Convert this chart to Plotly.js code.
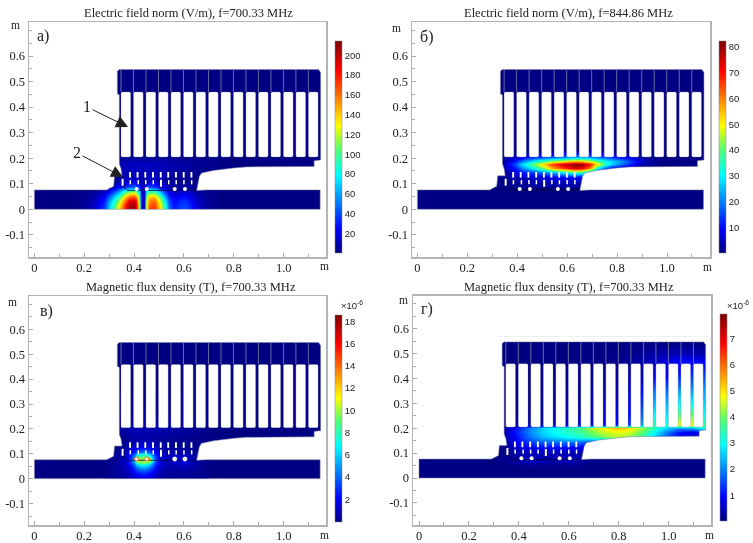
<!DOCTYPE html>
<html><head><meta charset="utf-8">
<script src="https://cdn.plot.ly/plotly-3.0.1.min.js"></script>
<style>html,body{margin:0;padding:0;background:#fff}#p{width:753px;height:543px;filter:blur(.4px)}</style></head>
<body><div id="p"></div>
<script>
// ---------- tick labels ----------
const xTickVals=[0,0.2,0.4,0.6,0.8,1.0];
const xTickText=['0','0.2','0.4','0.6','0.8','1.0'];
const yTickVals=[-0.1,0,0.1,0.2,0.3,0.4,0.5,0.6];
const yTickText=['-0.1','0','0.1','0.2','0.3','0.4','0.5','0.6'];
const titles=['Electric field norm (V/m), f=700.33 MHz','Electric field norm (V/m), f=844.86 MHz','Magnetic flux density (T), f=700.33 MHz','Magnetic flux density (T), f=700.33 MHz'];
const panelLabels=['а)','б)','в)','г)'];
const cbTicksA=[20,40,60,80,100,120,140,160,180,200];
const cbTicksB=[10,20,30,40,50,60,70,80];
const cbTicksC=[2,4,6,8,10,12,14,16,18];
const cbTicksD=[1,2,3,4,5,6,7];
const zRanges=[[0.2,214],[0,82.2],[0.02,18.6],[0.02,7.94]];

// ---------- geometry of the structure (m) ----------
const bodyX=[.34,.333,.333,.341,.341,.348,.352,.322,.318,.302,.29,0,0,1.146,1.146,.69,.651,.662,.671,.718,.80,.85,1.122,1.122,1.148,1.148,1.14,.34];
const bodyY=[.547,.54,.452,.447,.178,.158,.131,.131,.09,.082,.076,.076,0,0,.076,.076,.074,.129,.142,.152,.162,.166,.168,.19,.193,.535,.547,.547];
const slotLeft=[.3476,.3977,.4478,.4979,.548,.5981,.6482,.6983,.7484,.7985,.8486,.8987,.9488,.9989,1.049,1.0991];
const slotWidth=.0388, slotBottom=.205, slotTop=.459;
const holesTopX=[.384,.414,.445,.476,.507,.537,.568,.599,.630];
const holesTopY=[.135,.135,.135,.135,.135,.135,.135,.135,.135];
const holesMidX=[.385,.417,.447,.477,.539,.569,.600,.631];
const holesMidY=[.106,.106,.106,.106,.106,.106,.106,.106];
const holesLeftX=[.354,.508]; const holesLeftY=[.106,.102];
const holesBigX=[.410,.451,.563,.604]; const holesBigY=[.079,.079,.079,.079];
const cavityLineX=[.358,.362,.372,.648,null,.508,.508];
const cavityLineY=[.105,.085,.074,.074,null,.09,.074];

// ---------- field values ----------
const xA=[.16,.2,.24,.28,.3,.32,.34,.36,.38,.4,.41,.42,.43,.44,.45,.46,.48,.5,.52,.54,.56,.58,.6,.62,.64,.68,.72];
const yA=[0,.015,.03,.045,.06,.075,.09,.11,.14,.18,.21];
const zA=[
[2,5,14,38,72,102,138,175,208,205,190,120,14,14,130,170,175,140,95,45,30,38,42,36,22,8,3],
[2,5,14,36,68,98,132,172,205,205,188,118,14,14,128,165,172,138,92,43,28,36,40,34,20,8,3],
[2,5,12,32,62,90,122,160,195,198,180,110,14,14,122,158,165,130,85,40,26,32,36,30,18,7,3],
[2,4,10,26,50,74,102,140,170,175,160,100,14,14,112,145,150,115,70,32,22,26,30,25,14,6,2],
[2,3,7,18,34,54,77,110,135,140,125,85,14,14,95,115,118,85,50,24,16,18,22,18,10,4,2],
[2,2,4,9,18,32,50,70,85,90,80,60,14,14,70,80,78,55,32,16,10,12,14,12,6,3,2],
[2,2,2,3,6,14,25,35,42,45,40,30,12,12,36,40,36,26,16,8,5,6,7,6,3,2,2],
[2,2,2,2,3,5,8,12,15,16,15,12,8,8,12,14,13,10,6,4,3,3,3,3,2,2,2],
[2,2,2,2,2,4,8,10,11,12,12,12,11,11,11,11,11,10,9,8,7,7,6,5,4,2,2],
[2,2,2,2,2,3,9,12,13,13,13,13,13,13,13,13,12,12,11,10,9,8,7,6,5,4,3],
[2,2,2,2,2,2,2,3,3,3,3,3,3,3,3,3,3,3,3,3,3,3,3,2,2,2,2]];

const xB=[.33,.36,.39,.42,.45,.48,.51,.54,.57,.6,.63,.66,.69,.72,.75,.78,.81,.84,.87,.9,.95];
const yB=[.1,.125,.145,.16,.175,.19,.205,.22];
const zB=[
[1,1,1.5,2,2,2.5,3,3,3,3,3,2,1,1,1,1,1,1,1,1,1],
[1,2,3,4,5,6,7,8,9,9,9,7,3,1,1,1,1,1,1,1,1],
[1,3,7,11,14,17,20,24,28,32,36,36,22,8,3,1,1,1,1,1,1],
[1,5,11,20,27,34,44,56,62,68,74,72,58,32,16,9,5,3,2,1,1],
[1,7,16,28,37,46,56,66,72,78,82,80,70,52,36,26,20,14,8,3,1],
[1,5,11,20,27,33,38,44,48,52,56,54,48,40,32,27,23,18,12,6,1],
[1,3,5,8,12,14,16,18,20,22,24,24,22,19,17,14,11,8,5,2,1],
[1,1,2,3,4,5,6,6,7,7,8,8,7,6,5,4,3,2,1,1,1]];

const xC=[.3,.33,.36,.38,.4,.41,.42,.43,.44,.45,.46,.48,.5,.53,.56,.6,.64,.68];
const yC=[0,.02,.04,.055,.065,.075,.085,.095,.11,.13,.16,.2,.3];
const zC=[
[.2,.3,.5,.8,1.2,1.4,1.6,1.7,1.7,1.6,1.4,1,.6,.3,.3,.4,.3,.2],
[.2,.4,.7,1.1,1.8,2.2,2.5,2.6,2.6,2.5,2.2,1.5,.8,.4,.4,.5,.3,.2],
[.2,.5,.9,1.6,3,3.8,4.4,4.7,4.7,4.4,3.8,2.4,1.2,.6,.6,.8,.5,.2],
[.2,.5,1,2.2,4.2,5.8,6.6,7,7,6.6,5.8,3.2,1.5,.8,.9,1.2,.6,.2],
[.2,.5,1.1,2.6,5.2,8,9.4,9.8,9.8,9.4,8,3.8,1.7,.9,1.2,1.5,.7,.2],
[.2,.5,1.1,2.8,5.6,13,10.5,10,10,10.5,13,4,1.8,1,1.5,2,.8,.2],
[.2,.5,1.1,2.6,5.2,8.4,9.4,9.4,9.4,9.4,8.4,3.8,1.7,1,1.3,1.6,.7,.2],
[.2,.4,1,2.2,4.2,6.4,7.4,7.8,7.8,7.4,6.4,3.2,1.5,.9,1,1.1,.5,.2],
[.2,.3,.8,1.4,2.6,3.4,3.8,4,4,3.8,3.4,2,1.1,.7,.7,.7,.4,.2],
[.2,.2,.5,.8,1.3,1.6,1.8,1.9,1.9,1.8,1.6,1.1,.7,.5,.4,.4,.3,.2],
[.2,.2,.3,.5,.6,.7,.7,.7,.7,.7,.7,.6,.5,.4,.3,.3,.2,.2],
[.2,.3,.6,.8,.9,.9,.9,.9,.9,.9,.9,.9,.9,.8,.7,.6,.4,.2],
[.2,.2,.2,.2,.2,.2,.2,.2,.2,.2,.2,.2,.2,.2,.2,.2,.2,.2]];

const xD=[.342,.392,.442,.492,.542,.592,.642,.692,.742,.792,.842,.892,.942,.992,1.042,1.092,1.142];
const yD=[.05,.07,.10,.125,.145,.165,.185,.2,.215,.25,.3,.35,.4,.44,.47,.5,.545];
const zD=[
[.05,.1,.1,.1,.1,.1,.1,.05,.05,.05,.05,.05,.05,.05,.05,.05,.05],
[.1,.3,.5,.4,.3,.5,.3,.1,.05,.05,.05,.05,.05,.05,.05,.05,.05],
[.1,.3,.4,.4,.4,.4,.3,.1,.05,.05,.05,.05,.05,.05,.05,.05,.05],
[.1,.6,.9,1,1,1,.9,.5,.1,.1,.1,.1,.1,.1,.1,.1,.05],
[.2,.9,1.4,1.7,1.8,1.9,1.8,1.5,1.6,1.8,1.8,1.5,1,.6,.3,.1,.1],
[.3,1.1,1.8,2.4,2.7,3,3.2,3.7,4.1,4.4,4.2,3.6,2.6,1.6,.9,.5,.2],
[.3,1.2,2,2.6,3,3.3,3.6,4.1,4.5,4.7,4.6,3.9,3,1.9,1.1,.8,1.2],
[.3,1.1,1.9,2.6,3,3.4,3.8,4.4,4.9,5.3,5,4.3,3.4,2.6,2.2,2.4,3.2],
[.1,.3,.4,.5,.6,.6,.7,.8,.9,1.1,1.4,2.3,3.4,3.2,4.8,4.8,3.6],
[.05,.1,.2,.3,.3,.4,.4,.5,.6,.8,1,1.8,3,2.8,4,4,3],
[.05,.1,.1,.2,.2,.3,.3,.4,.5,.6,.8,1.4,2.4,2.4,3,3,2.6],
[.05,.05,.1,.1,.2,.2,.2,.3,.3,.4,.6,1,1.8,1.8,2.2,2.2,2.2],
[.05,.05,.05,.1,.1,.1,.1,.1,.2,.3,.4,.6,1,1,1.3,1.5,1.6],
[.05,.05,.05,.05,.05,.1,.1,.1,.1,.2,.3,.4,.5,.7,.9,1.1,1.1],
[.05,.05,.05,.05,.05,.05,.1,.1,.1,.1,.2,.3,.5,.7,1,1,.8],
[.05,.05,.05,.05,.05,.05,.05,.05,.05,.1,.1,.2,.3,.4,.4,.4,.3],
[.05,.05,.05,.05,.05,.05,.05,.05,.05,.05,.05,.05,.05,.05,.05,.05,.05]];

const fields=[[xA,yA,zA],[xB,yB,zB],[xC,yC,zC],[xD,yD,zD]];
const cbTicks=[cbTicksA,cbTicksB,cbTicksC,cbTicksD];

// ---------- layout in page pixels ----------
const W=753,H=543;
const frames=[{l:29,r:326,t:22,b:257,x0:34.3,x1:283.7,y0:209.3,y6:56},
              {l:412,r:710,t:22,b:257,x0:417.3,x1:667,y0:209.3,y6:56},
              {l:29,r:326,t:296,b:525,x0:34.3,x1:283.7,y0:478.7,y6:329.3},
              {l:413,r:711,t:295.5,b:525,x0:419,x1:668.7,y0:478,y6:328.7}];
const bars=[{l:335,r:342,t:41.3,b:253.3},{l:718.5,r:725.5,t:41.3,b:253.3},{l:335,r:342,t:314.7,b:521.3},{l:720,r:727,t:313.7,b:521}];
const titlePos=[[188,13],[568,13],[191,287],[569,287]];
const labelPos=[[43,36],[426,37],[46,311],[427,309]];
const mTopPos=[[15,25],[396,28],[13,302],[403,300]];
const mBotPos=[[324,265.5],[707,266.5],[324,535],[709,535]];
const expPos=[null,null,[352,305],[738,305]];

const jet=[[0,'#00007f'],[.115,'#0000ff'],[.37,'#00ffff'],[.49,'#55ff70'],[.6,'#ffff00'],[.86,'#ff0000'],[1,'#7f0000']];
const serif='"Liberation Serif","Times New Roman",serif';
const sans='"Liberation Sans",Arial,sans-serif';
const px=v=>v/W, py=v=>1-v/H;

const slotsX=[],slotsY=[],wallX=[],wallY=[];
const c=.004;
slotLeft.forEach(s=>{
  const a=s,b=s+slotWidth;
  slotsX.push(a+c,b-c,b,b,b-c,a+c,a,a,a+c,null);
  slotsY.push(slotBottom,slotBottom,slotBottom+c,slotTop-c,slotTop,slotTop,slotTop-c,slotBottom+c,slotBottom,null);
  wallX.push(s,s,null); wallY.push(slotTop,.545,null);
});
const outerX=[-.02,-.02,1.168,1.168,-.02], outerY=[-.02,.57,.57,-.02,-.02];
const maskX=outerX.concat([null],bodyX), maskY=outerY.concat([null],bodyY);

const traces=[],layout={width:W,height:H,margin:{l:0,r:0,t:0,b:0,pad:0},paper_bgcolor:'#fff',plot_bgcolor:'#fff',showlegend:false,annotations:[]};
const note=(t,pos,size,font)=>layout.annotations.push({text:t,x:px(pos[0]),y:py(pos[1]),xref:'paper',yref:'paper',xanchor:'center',yanchor:'middle',showarrow:false,font:{family:font||serif,size:size,color:'#222'}});

frames.forEach((f,i)=>{
  const n=i===0?'':String(i+1), xa='x'+n, ya='y'+n;
  const sx=(f.x1-f.x0), sy=(f.y0-f.y6)/0.6;
  const axis={showgrid:false,zeroline:false,showline:true,mirror:true,linecolor:'#b4b4b4',linewidth:1.5,ticks:'inside',ticklen:4,tickcolor:'#aaa',tickwidth:1,tickfont:{family:serif,size:12.5,color:'#222'},tickmode:'array',fixedrange:true};
  layout['xaxis'+n]=Object.assign({},axis,{domain:[px(f.l),px(f.r)],range:[(f.l-f.x0)/sx,(f.r-f.x0)/sx],tickvals:xTickVals,ticktext:xTickText,anchor:ya,ticklabelstandoff:-2,
    minor:{tickmode:'linear',tick0:0,dtick:.1,ticks:'inside',ticklen:3,tickcolor:'#aaa'}});
  layout['yaxis'+n]=Object.assign({},axis,{domain:[py(f.b),py(f.t)],range:[(f.y0-f.b)/sy,(f.y0-f.t)/sy],tickvals:yTickVals,ticktext:yTickText,anchor:xa,
    minor:{tickmode:'linear',tick0:0,dtick:.05,ticks:'inside',ticklen:3,tickcolor:'#aaa'}});
  const zr=zRanges[i], bar=bars[i];
  traces.push({type:'heatmap',x:[0,1.15],y:[0,.55],z:[[zr[0]+(zr[1]-zr[0])*.004]],xaxis:xa,yaxis:ya,zmin:zr[0],zmax:zr[1],colorscale:jet,hoverinfo:'skip',showscale:true,
    colorbar:{x:px(bar.l),xanchor:'left',xref:'paper',y:py((bar.t+bar.b)/2),yanchor:'middle',yref:'paper',lenmode:'pixels',len:bar.b-bar.t,thicknessmode:'pixels',thickness:bar.r-bar.l,xpad:0,ypad:0,
      outlinewidth:.5,outlinecolor:'#888',borderwidth:0,tickmode:'array',tickvals:cbTicks[i],ticktext:cbTicks[i].map(String),ticks:'',ticklabelposition:'outside',tickfont:{family:sans,size:9.5,color:'#222'}}});
  const [fx,fy,fz]=fields[i];
  traces.push({type:'heatmap',x:fx,y:fy,z:fz,xaxis:xa,yaxis:ya,zmin:zr[0],zmax:zr[1],colorscale:jet,zsmooth:'best',showscale:false,hoverinfo:'skip'});
  traces.push({type:'scatter',mode:'lines',x:maskX,y:maskY,xaxis:xa,yaxis:ya,fill:'toself',fillcolor:'#fff',line:{width:0,color:'#fff',simplify:false},hoverinfo:'skip'});
  traces.push({type:'scatter',mode:'lines',x:bodyX,y:bodyY,xaxis:xa,yaxis:ya,line:{width:.9,color:'rgba(130,130,160,.6)',simplify:false},hoverinfo:'skip'});
  traces.push({type:'scatter',mode:'lines',x:slotsX,y:slotsY,xaxis:xa,yaxis:ya,fill:'toself',fillcolor:'#fff',line:{width:.7,color:'rgba(140,140,170,.45)',simplify:false},hoverinfo:'skip'});
  traces.push({type:'scatter',mode:'lines',x:wallX,y:wallY,xaxis:xa,yaxis:ya,line:{width:1,color:'rgba(150,150,175,.7)'},hoverinfo:'skip'});
  traces.push({type:'scatter',mode:'lines',x:cavityLineX,y:cavityLineY,xaxis:xa,yaxis:ya,line:{width:.8,color:'#00003c'},hoverinfo:'skip'});
  traces.push({type:'scatter',mode:'markers',x:holesTopX,y:holesTopY,xaxis:xa,yaxis:ya,marker:{symbol:'line-ns-open',size:4,color:'#fff',line:{width:1.9,color:'#fff'}},hoverinfo:'skip'});
  traces.push({type:'scatter',mode:'markers',x:holesMidX,y:holesMidY,xaxis:xa,yaxis:ya,marker:{symbol:'line-ns-open',size:3,color:'#fff',line:{width:1.5,color:'#fff'}},hoverinfo:'skip'});
  traces.push({type:'scatter',mode:'markers',x:holesLeftX,y:holesLeftY,xaxis:xa,yaxis:ya,marker:{symbol:'line-ns-open',size:5,color:'#fff',line:{width:2,color:'#fff'}},hoverinfo:'skip'});
  const ring=i===2?['#ff5a00','#ff5a00','#fff','#fff']:'#fff';
  traces.push({type:'scatter',mode:'markers',x:holesBigX,y:holesBigY,xaxis:xa,yaxis:ya,marker:{symbol:'circle',size:4,color:'#fff',line:{width:i===2?.9:0,color:ring}},hoverinfo:'skip'});
  note(titles[i],titlePos[i],12.5);
  note(panelLabels[i],labelPos[i],16);
  note('m',mTopPos[i],11.5);
  note('m',mBotPos[i],11.5);
  if(expPos[i]) note('×10<sup>-6</sup>',expPos[i],9.5,sans);
});
const arrow=(t,tip,txt)=>layout.annotations.push({text:t,x:px(tip[0]),y:py(tip[1]),xref:'paper',yref:'paper',ax:txt[0]-tip[0],ay:txt[1]-tip[1],showarrow:true,arrowhead:2,arrowsize:2.4,arrowwidth:1,arrowcolor:'#222',font:{family:serif,size:16,color:'#222'}});
arrow('1',[128,127],[87,107]);
arrow('2',[123,177],[77,153]);
Plotly.newPlot('p',traces,layout,{staticPlot:true,displayModeBar:false});
</script></body></html>
